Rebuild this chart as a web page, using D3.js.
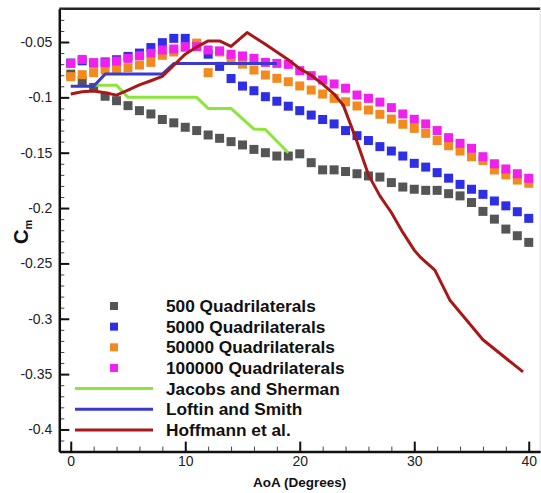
<!DOCTYPE html>
<html>
<head>
<meta charset="utf-8">
<script src="https://cdn.jsdelivr.net/npm/d3@7"></script>
<style>
  body { margin: 0; background: #fff; }
  svg { display: block; font-family: "Liberation Sans", Arial, sans-serif; }
</style>
</head>
<body>
<div id="chart"></div>
<script>
// Data
// =================================
const aoa = [0, 1, 2, 3, 4, 5, 6, 7, 8, 9, 10, 11, 12, 13, 14, 15, 16, 17, 18, 19, 20,
  21, 22, 23, 24, 25, 26, 27, 28, 29, 30, 31, 32, 33, 34, 35, 36, 37, 38, 39, 40];

const quad500 = [-0.079, -0.085, -0.091, -0.099, -0.103, -0.1075, -0.112, -0.115, -0.12, -0.123,
  -0.127, -0.13, -0.134, -0.137, -0.14, -0.143, -0.147, -0.15, -0.153, -0.153,
  -0.151, -0.159, -0.1655, -0.1655, -0.167, -0.169, -0.171, -0.172, -0.177, -0.181,
  -0.183, -0.184, -0.184, -0.187, -0.189, -0.195, -0.203, -0.21, -0.219, -0.225, -0.231];

const quad5000 = [-0.069, -0.067, -0.069, -0.068, -0.066, -0.063, -0.06, -0.055, -0.0506, -0.0467,
  -0.0467, -0.053, -0.061, -0.072, -0.083, -0.0898, -0.094, -0.0994, -0.1035, -0.108,
  -0.112, -0.116, -0.12, -0.124, -0.13, -0.1346, -0.139, -0.1445, -0.1485, -0.153,
  -0.1596, -0.163, -0.168, -0.173, -0.1786, -0.183, -0.1876, -0.1936, -0.198, -0.2033, -0.2093];

const quad50000 = [-0.0813, -0.0795, -0.0777, -0.0753, -0.0738, -0.0732, -0.0708, -0.0684, -0.062, -0.059,
  -0.055, -0.051, -0.0777, -0.059, -0.0648, -0.07, -0.0753, -0.0798, -0.0828, -0.0859,
  -0.0897, -0.0934, -0.097, -0.1009, -0.104, -0.1078, -0.1114, -0.1153, -0.1196, -0.1243,
  -0.128, -0.1325, -0.139, -0.1437, -0.1485, -0.1536, -0.157, -0.1656, -0.17, -0.1747, -0.1776];

const quad100000 = [-0.0693, -0.0657, -0.0687, -0.0687, -0.0672, -0.0648, -0.0624, -0.0602, -0.0572, -0.0563,
  -0.0542, -0.0542, -0.0572, -0.058, -0.0611, -0.0626, -0.0648, -0.0684, -0.0693, -0.0702,
  -0.0759, -0.0804, -0.0843, -0.0879, -0.0918, -0.0979, -0.1009, -0.1043, -0.1093, -0.115,
  -0.1198, -0.124, -0.13, -0.1364, -0.1415, -0.146, -0.1536, -0.16, -0.1647, -0.169, -0.1731];

const jacobsSherman = [[2, -0.089], [4, -0.089], [5, -0.1], [11, -0.1], [12, -0.11], [14, -0.11],
  [16, -0.1286], [17, -0.129], [19, -0.15]];

const loftinSmith = [[0, -0.09], [2, -0.09], [3, -0.079], [8, -0.079], [9, -0.0695], [18, -0.0695]];

const hoffmann = [[0, -0.097], [1, -0.095], [2, -0.0943], [3, -0.0958], [4, -0.098], [5, -0.0934],
  [6, -0.0888], [7, -0.085], [8, -0.081], [9, -0.071], [10, -0.061], [11, -0.0545], [12, -0.049],
  [13, -0.049], [14, -0.054], [15.4, -0.0415], [17, -0.052], [18, -0.059], [19, -0.066], [20, -0.074],
  [21, -0.08], [22, -0.088], [23, -0.097], [23.8, -0.107], [25, -0.14], [26, -0.17], [27, -0.189],
  [28, -0.204], [29, -0.222], [30, -0.238], [30.5, -0.244], [31.8, -0.256], [33.1, -0.283],
  [36, -0.319], [39.5, -0.348]];

const xMajorTicks = [0, 10, 20, 30, 40];
const yMajorTicks = [-0.4, -0.35, -0.3, -0.25, -0.2, -0.15, -0.1, -0.05];
const yTickLabels = ["-0.4", "-0.35", "-0.3", "-0.25", "-0.2", "-0.15", "-0.1", "-0.05"];

const squareSeries = [
  { name: "500 Quadrilaterals", values: quad500, color: "#555555" },
  { name: "5000 Quadrilaterals", values: quad5000, color: "#2e2ee4" },
  { name: "50000 Quadrilaterals", values: quad50000, color: "#f28a1e" },
  { name: "100000 Quadrilaterals", values: quad100000, color: "#f020ee" }
];
const lineSeries = [
  { name: "Jacobs and Sherman", values: jacobsSherman, color: "#8ce63a" },
  { name: "Loftin and Smith", values: loftinSmith, color: "#3a3acc" },
  { name: "Hoffmann et al.", values: hoffmann, color: "#a81818" }
];

// Set up chart
// =================================
const svgWidth = 541;
const svgHeight = 493;
const margin = { top: 8.8, right: 0.8, bottom: 41.4, left: 59.3 };
const width = svgWidth - margin.left - margin.right;
const height = svgHeight - margin.top - margin.bottom;

const svg = d3.select("#chart")
  .append("svg")
  .attr("width", svgWidth)
  .attr("height", svgHeight);

const chartGroup = svg.append("g")
  .attr("transform", `translate(${margin.left}, ${margin.top})`);

const xScale = d3.scaleLinear().domain([-1, 41]).range([0, width]);
const yScale = d3.scaleLinear().domain([-0.42, -0.02]).range([height, 0]);

// Frame (top and right)
chartGroup.append("line")
  .attr("x1", 0).attr("x2", width).attr("y1", 0).attr("y2", 0)
  .attr("stroke", "#222").attr("stroke-width", 2.5);
chartGroup.append("line")
  .attr("x1", width).attr("x2", width).attr("y1", 0).attr("y2", height)
  .attr("stroke", "#ddd").attr("stroke-width", 1);

// Squares
// =================================
const sq = 9;
squareSeries.forEach(s => {
  chartGroup.append("g")
    .selectAll("rect")
    .data(aoa)
    .enter()
    .append("rect")
    .attr("x", (d, i) => xScale(d) - sq / 2)
    .attr("y", (d, i) => yScale(s.values[i]) - sq / 2)
    .attr("width", sq)
    .attr("height", sq)
    .attr("fill", s.color);
});

// Lines
// =================================
const line = d3.line()
  .x(d => xScale(d[0]))
  .y(d => yScale(d[1]));

lineSeries.forEach(s => {
  chartGroup.append("path")
    .datum(s.values)
    .attr("fill", "none")
    .attr("stroke", s.color)
    .attr("stroke-width", 3)
    .attr("stroke-linejoin", "round")
    .attr("d", line);
});

// Axes
// =================================
const xMinor = chartGroup.append("g")
  .attr("transform", `translate(0, ${height})`)
  .call(d3.axisBottom(xScale).tickValues(xScale.ticks(21)).tickSize(-5).tickSizeOuter(0).tickFormat(""));
const yMinor = chartGroup.append("g")
  .call(d3.axisLeft(yScale).tickValues(yScale.ticks(40)).tickSize(-5).tickSizeOuter(0).tickFormat(""));
[xMinor, yMinor].forEach(g => {
  g.select(".domain").remove();
  g.selectAll(".tick line").attr("stroke", "#444").attr("stroke-width", 1);
});

const xAxis = chartGroup.append("g")
  .attr("transform", `translate(0, ${height})`)
  .call(d3.axisBottom(xScale).tickValues(xMajorTicks).tickSize(-10).tickSizeOuter(0).tickPadding(4));

const yAxis = chartGroup.append("g")
  .call(d3.axisLeft(yScale).tickValues(yMajorTicks).tickSize(-10).tickSizeOuter(0).tickPadding(7)
    .tickFormat((d, i) => yTickLabels[i]));

[xAxis, yAxis].forEach(g => {
  g.select(".domain").attr("stroke", "#111").attr("stroke-width", 2.5);
  g.selectAll(".tick line").attr("stroke", "#111").attr("stroke-width", 2);
  g.selectAll(".tick text")
    .attr("fill", "#222")
    .style("font-size", "14px")
    .style("font-family", "'Liberation Sans', Arial, sans-serif");
});

// Axis labels
chartGroup.append("text")
  .attr("x", xScale(20))
  .attr("y", height + 35)
  .attr("text-anchor", "middle")
  .style("font-size", "13.5px")
  .style("font-weight", "bold")
  .attr("fill", "#111")
  .text("AoA (Degrees)");

const yLabel = svg.append("text")
  .attr("transform", "translate(28, 244) rotate(-90)")
  .style("font-weight", "bold")
  .attr("fill", "#111");
yLabel.append("tspan").style("font-size", "20px").text("C");
yLabel.append("tspan").style("font-size", "11px").attr("dy", 4).text("m");

// Legend
// =================================
const legendRows = squareSeries.map(s => ({ name: s.name, color: s.color, kind: "square" }))
  .concat(lineSeries.map(s => ({ name: s.name, color: s.color, kind: "line" })));

const legend = svg.append("g");
const legendItem = legend.selectAll("g")
  .data(legendRows)
  .enter()
  .append("g")
  .attr("transform", (d, i) => `translate(0, ${306 + i * 20.65})`);

legendItem.filter(d => d.kind === "square")
  .append("rect")
  .attr("x", 110).attr("y", -4)
  .attr("width", 8).attr("height", 8)
  .attr("fill", d => d.color);

legendItem.filter(d => d.kind === "line")
  .append("line")
  .attr("x1", 75).attr("x2", 153)
  .attr("y1", 0).attr("y2", 0)
  .attr("stroke", d => d.color)
  .attr("stroke-width", 3);

// reference text is a little wide, so stretch it sideways
legendItem.append("text")
  .attr("transform", "translate(166, 6) scale(1.08, 1)")
  .style("font-size", "16px")
  .style("font-weight", "bold")
  .attr("fill", "#111")
  .text(d => d.name);
</script>
</body>
</html>
